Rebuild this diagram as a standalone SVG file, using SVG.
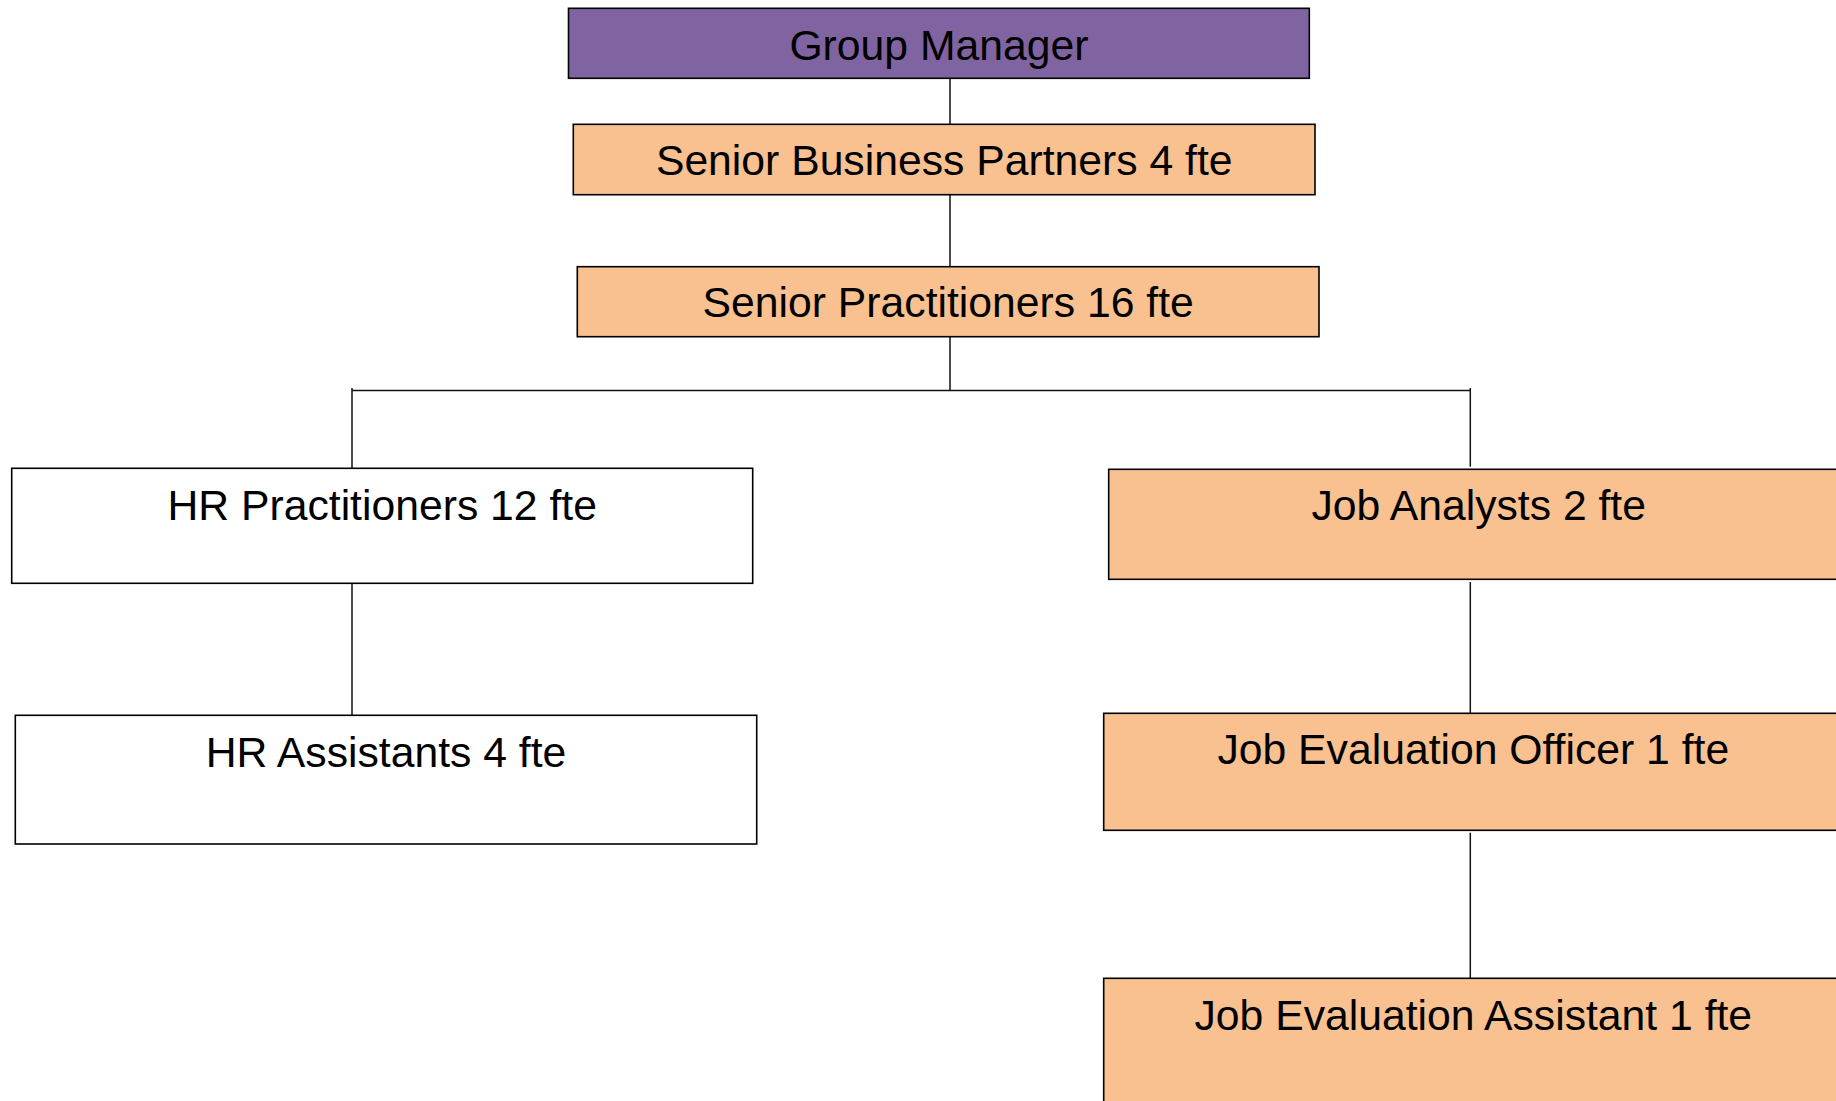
<svg xmlns="http://www.w3.org/2000/svg" width="1836" height="1101" viewBox="0 0 1836 1101">
<style>
.box{stroke:#000;stroke-width:1.6}
.purple{fill:#8064A2}
.orange{fill:#F9C090}
.white{fill:#FFFFFF}
.lbl{font-family:"Liberation Sans",Arial,sans-serif;font-size:42.7px;fill:#000;text-anchor:middle}
.con{stroke:#111;stroke-width:1.5;fill:none}
</style>
<rect x="0" y="0" width="1836" height="1101" fill="#FFFFFF"/>
<g id="connectors">
<line class="con" x1="950" y1="78.3" x2="950" y2="124.3"/>
<line class="con" x1="950" y1="194.7" x2="950" y2="266.7"/>
<line class="con" x1="950" y1="336.7" x2="950" y2="390.5"/>
<line class="con" x1="352" y1="390.5" x2="1470.3" y2="390.5"/>
<line class="con" x1="352" y1="388" x2="352" y2="468.3"/>
<line class="con" x1="1470.3" y1="388" x2="1470.3" y2="466.7"/>
<line class="con" x1="352" y1="583.3" x2="352" y2="715.3"/>
<line class="con" x1="1470.3" y1="582" x2="1470.3" y2="713.3"/>
<line class="con" x1="1470.3" y1="832.7" x2="1470.3" y2="978.3"/>
</g>
<g id="group-manager">
<rect class="box purple" x="568.5" y="8.3" width="740.8" height="70"/>
<text class="lbl" x="938.9" y="59.8">Group Manager</text>
</g>
<g id="senior-business-partners">
<rect class="box orange" x="573.3" y="124.3" width="741.7" height="70.4"/>
<text class="lbl" x="944.2" y="175.2">Senior Business Partners 4 fte</text>
</g>
<g id="senior-practitioners">
<rect class="box orange" x="577.3" y="266.7" width="741.7" height="70"/>
<text class="lbl" x="948.2" y="316.9">Senior Practitioners 16 fte</text>
</g>
<g id="hr-practitioners">
<rect class="box white" x="11.7" y="468.3" width="741" height="115"/>
<text class="lbl" x="382.2" y="520">HR Practitioners 12 fte</text>
</g>
<g id="hr-assistants">
<rect class="box white" x="15.3" y="715.3" width="741.4" height="128.7"/>
<text class="lbl" x="386" y="766.7">HR Assistants 4 fte</text>
</g>
<g id="job-analysts">
<rect class="box orange" x="1108.7" y="469.3" width="740" height="110"/>
<text class="lbl" x="1478.7" y="520">Job Analysts 2 fte</text>
</g>
<g id="job-evaluation-officer">
<rect class="box orange" x="1103.7" y="713.3" width="739.3" height="117"/>
<text class="lbl" x="1473.3" y="764">Job Evaluation Officer 1 fte</text>
</g>
<g id="job-evaluation-assistant">
<rect class="box orange" x="1103.7" y="978.3" width="739.3" height="140"/>
<text class="lbl" x="1473.3" y="1030">Job Evaluation Assistant 1 fte</text>
</g>
</svg>
